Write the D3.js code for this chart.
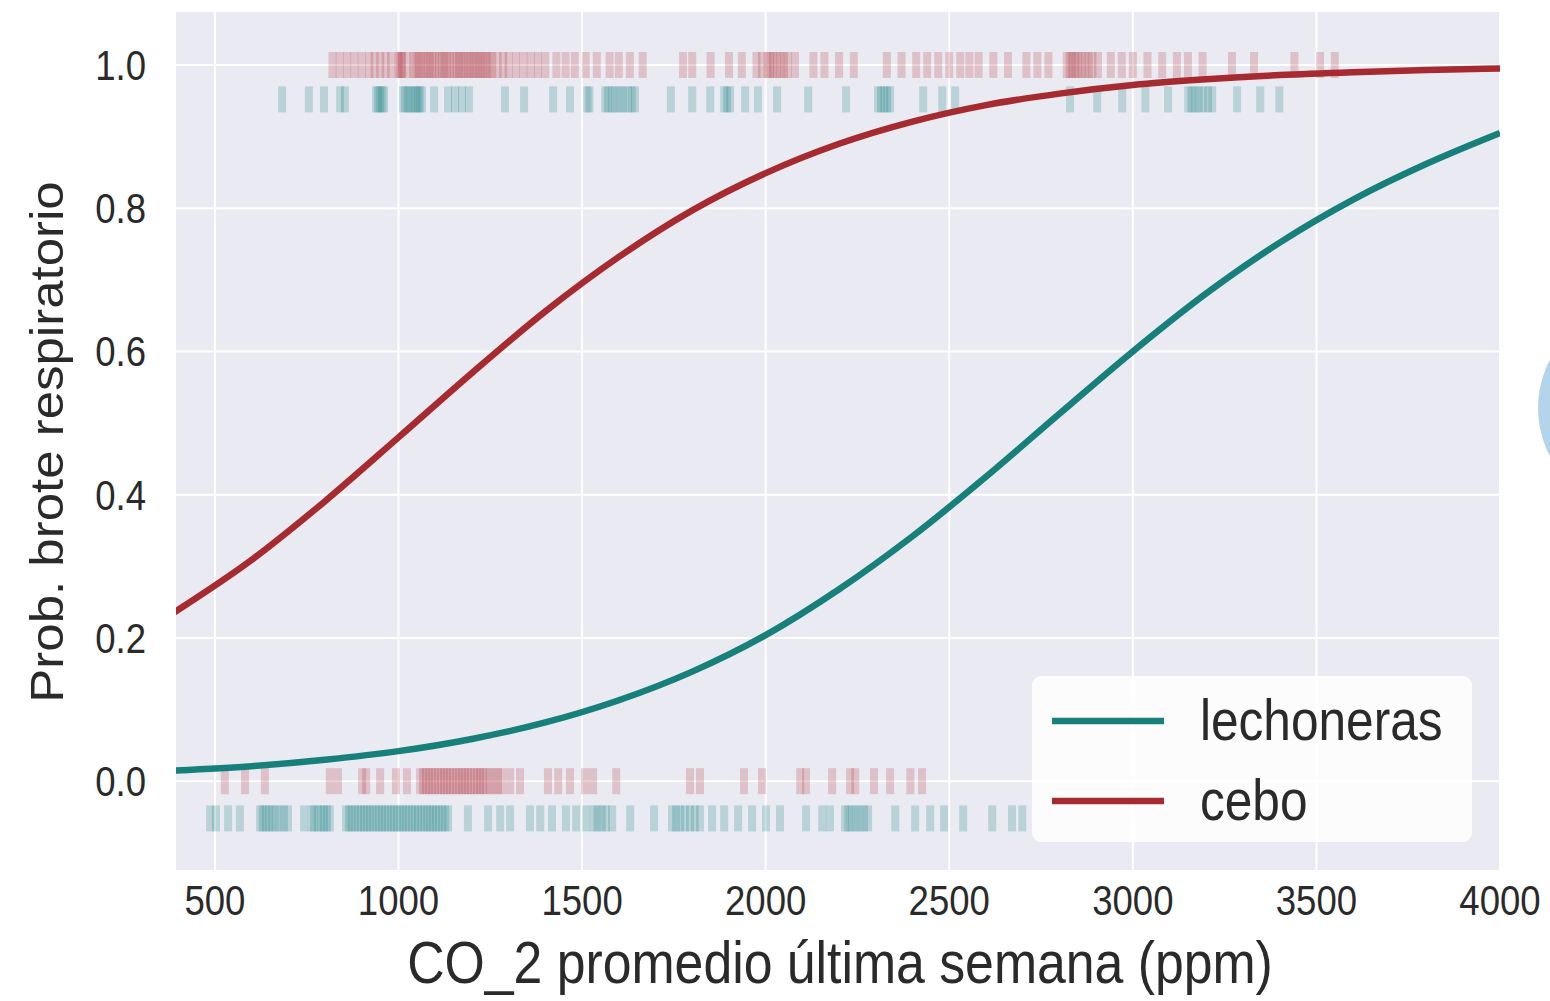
<!DOCTYPE html>
<html>
<head>
<meta charset="utf-8">
<title>Prob. brote respiratorio vs CO_2</title>
<script src="https://d3js.org/d3.v7.min.js"></script>
<style>
  body { margin: 0; background: #fff; }
  text { font-family: "Liberation Sans", Arial, sans-serif; fill: #2a2a2a; }
</style>
</head>
<body>
<svg width="1550" height="1001" id="mainSvg"></svg>
<script>
// curvas (prob. vs CO_2)
const curveX = [390, 600, 800, 1000, 1200, 1400, 1600, 1800, 2000, 2200, 2400, 2600, 2800, 3000, 3200, 3400, 3600, 3800, 4000]
const ceboY = [0.236, 0.309, 0.391, 0.480, 0.570, 0.656, 0.732, 0.797, 0.849, 0.890, 0.921, 0.944, 0.960, 0.972, 0.980, 0.986, 0.990, 0.993, 0.995]
const lechY = [0.015, 0.021, 0.030, 0.042, 0.059, 0.082, 0.113, 0.153, 0.204, 0.268, 0.342, 0.425, 0.513, 0.600, 0.681, 0.752, 0.812, 0.862, 0.905]

// observaciones (rug) por grupo y resultado
const ceboSi = [820, 840, 860, 880, 900, 920, 935, 950, 965, 980, 1000, 1003, 1008, 1010, 1025, 1040, 1048, 1055, 1062, 1070, 1078, 1085, 1092, 1100, 1110, 1118, 1125, 1132, 1140, 1150, 1158, 1165, 1172, 1180, 1188, 1195, 1203, 1210, 1218, 1225, 1232, 1240, 1248, 1255, 1270, 1285, 1300, 1320, 1340, 1360, 1380, 1400, 1430, 1455, 1480, 1510, 1540, 1575, 1600, 1630, 1665, 1775, 1800, 1850, 1900, 1935, 1975, 1990, 2005, 2012, 2020, 2030, 2040, 2050, 2060, 2080, 2130, 2160, 2200, 2240, 2330, 2370, 2410, 2440, 2470, 2500, 2530, 2555, 2580, 2620, 2660, 2710, 2740, 2770, 2820, 2828, 2835, 2843, 2850, 2860, 2870, 2880, 2890, 2905, 2940, 2970, 3000, 3040, 3080, 3120, 3150, 3190, 3270, 3330, 3440, 3510, 3550]
const lechSi = [683, 756, 797, 841, 854, 939, 944, 950, 956, 961, 1012, 1018, 1026, 1033, 1040, 1047, 1053, 1058, 1064, 1097, 1135, 1154, 1173, 1192, 1290, 1342, 1421, 1467, 1514, 1520, 1563, 1570, 1582, 1590, 1603, 1612, 1625, 1635, 1644, 1742, 1800, 1849, 1887, 1895, 1903, 1944, 1979, 2031, 2116, 2219, 2306, 2314, 2323, 2331, 2339, 2429, 2481, 2516, 2829, 2903, 2971, 3034, 3096, 3151, 3160, 3170, 3180, 3192, 3205, 3216, 3284, 3347, 3399]
const ceboNo = [527, 582, 636, 813, 835, 901, 912, 950, 993, 1023, 1059, 1067, 1075, 1083, 1091, 1099, 1108, 1116, 1124, 1132, 1140, 1148, 1157, 1165, 1173, 1181, 1189, 1197, 1206, 1214, 1222, 1230, 1238, 1249, 1260, 1271, 1282, 1304, 1331, 1407, 1435, 1467, 1508, 1530, 1593, 1794, 1821, 1941, 1990, 2094, 2110, 2181, 2230, 2244, 2295, 2339, 2394, 2426]
const lechNo = [487, 503, 536, 568, 623, 630, 639, 647, 656, 665, 677, 688, 699, 743, 764, 770, 781, 790, 797, 805, 813, 857, 865, 873, 881, 890, 898, 906, 914, 922, 930, 939, 947, 955, 963, 971, 980, 988, 996, 1004, 1012, 1020, 1028, 1037, 1045, 1053, 1062, 1070, 1078, 1086, 1094, 1102, 1110, 1119, 1127, 1135, 1189, 1244, 1277, 1304, 1358, 1386, 1418, 1456, 1484, 1511, 1532, 1542, 1554, 1565, 1582, 1631, 1696, 1745, 1756, 1767, 1780, 1794, 1807, 1821, 1854, 1887, 1925, 1963, 2001, 2039, 2110, 2154, 2175, 2216, 2225, 2235, 2246, 2257, 2268, 2279, 2353, 2407, 2448, 2486, 2538, 2617, 2671, 2699]

const xTicks = [500, 1000, 1500, 2000, 2500, 3000, 3500, 4000]
const yTicks = [0.0, 0.2, 0.4, 0.6, 0.8, 1.0]
const series = ["lechoneras", "cebo"]

const teal = "#17807a"
const red = "#a62b31"

const svg = d3.select("#mainSvg")
const margin = {top: 12, left: 176, right: 50, bottom: 131}
const W = +svg.attr("width"), H = +svg.attr("height")
const iw = W - margin.left - margin.right
const ih = H - margin.top - margin.bottom

const x = d3.scaleLinear().domain([394, 4000]).range([0, iw])
const y = d3.scaleLinear().domain([-0.124, 1.074]).range([ih, 0])

const g = svg.append("g").attr("transform", `translate(${margin.left},${margin.top})`)

// fondo estilo darkgrid
g.append("rect").attr("width", iw).attr("height", ih).attr("fill", "#eaeaf2")
svg.append("defs").append("clipPath").attr("id", "clip")
  .append("rect").attr("width", iw).attr("height", ih)

// rejilla
g.append("g").selectAll("line").data(xTicks).join("line")
  .attr("x1", d => x(d)).attr("x2", d => x(d)).attr("y1", 0).attr("y2", ih)
  .attr("stroke", "#fff").attr("stroke-width", 2)
g.append("g").selectAll("line").data(yTicks).join("line")
  .attr("y1", d => y(d)).attr("y2", d => y(d)).attr("x1", 0).attr("x2", iw)
  .attr("stroke", "#fff").attr("stroke-width", 2)

// rug
const rugs = [
  {vals: ceboSi, yv: 1.0, color: "#b23a44"},
  {vals: lechSi, yv: 0.952, color: "#1f8587"},
  {vals: ceboNo, yv: 0.0, color: "#b23a44"},
  {vals: lechNo, yv: -0.052, color: "#1f8587"}
]
rugs.forEach(r => {
  g.append("g").attr("clip-path", "url(#clip)")
    .selectAll("rect").data(r.vals).join("rect")
    .attr("x", d => x(d) - 4).attr("width", 8)
    .attr("y", y(r.yv) - 13).attr("height", 26)
    .attr("fill", r.color).attr("opacity", 0.24)
})

// curvas
const line = (ys) => d3.line()
  .x((d, i) => x(curveX[i])).y(d => y(d))
  .curve(d3.curveMonotoneX)(ys)

g.append("path").attr("clip-path", "url(#clip)").attr("d", line(lechY))
  .attr("fill", "none").attr("stroke", teal).attr("stroke-width", 6.5)
g.append("path").attr("clip-path", "url(#clip)").attr("d", line(ceboY))
  .attr("fill", "none").attr("stroke", red).attr("stroke-width", 6.5)

// etiquetas de ejes
g.append("g").selectAll("text").data(xTicks).join("text")
  .attr("transform", d => `translate(${x(d)},${915 - margin.top}) scale(0.87,1)`)
  .attr("text-anchor", "middle").attr("font-size", 42)
  .text(d => d)
g.append("g").selectAll("text").data(yTicks).join("text")
  .attr("transform", d => `translate(-30,${y(d) + 15}) scale(0.87,1)`)
  .attr("text-anchor", "end").attr("font-size", 42)
  .text(d => d.toFixed(1))

svg.append("text")
  .attr("transform", `translate(${margin.left + iw / 2 + 2},983) scale(0.87,1)`)
  .attr("text-anchor", "middle").attr("font-size", 59.5)
  .text("CO_2 promedio última semana (ppm)")
svg.append("text")
  .attr("transform", `translate(63,442) rotate(-90) scale(1,0.9)`)
  .attr("text-anchor", "middle").attr("font-size", 51)
  .text("Prob. brote respiratorio")

// leyenda
const leg = svg.append("g").attr("transform", "translate(1032,676)")
leg.append("rect").attr("width", 440).attr("height", 166).attr("rx", 9)
  .attr("fill", "#fff").attr("opacity", 0.85)
series.forEach((s, i) => {
  const yy = 45 + i * 80
  leg.append("line").attr("x1", 20).attr("x2", 132).attr("y1", yy).attr("y2", yy)
    .attr("stroke", i === 0 ? teal : red).attr("stroke-width", 6.5)
  leg.append("text").attr("transform", `translate(168,${yy + 19}) scale(0.87,1)`)
    .attr("font-size", 57).text(s)
})

// circulo azul claro en el borde derecho
svg.append("circle").attr("cx", 1642).attr("cy", 408).attr("r", 104)
  .attr("fill", "#b4d4ec")
</script>
</body>
</html>
